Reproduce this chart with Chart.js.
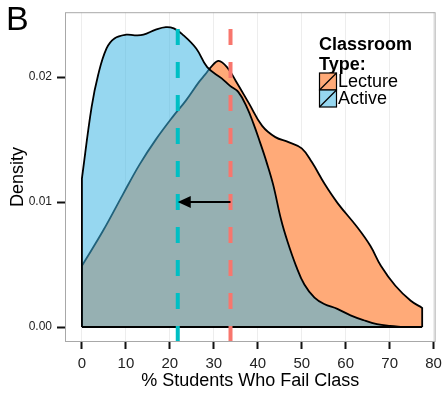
<html>
<head>
  <script src="https://cdn.jsdelivr.net/npm/chart.js@4.4.1/dist/chart.umd.min.js"></script>
  <style>
    body { margin: 0; background: #fff; }
  </style>
</head>
<body>
  <canvas id="densityChart" width="448" height="397"></canvas>
<script>
  // Values (x = % students who fail, y = density).
  const categories = ['Lecture', 'Active'];
  const lectureX = [0, 0, 0, 4.8, 9.3, 13.1, 16.8, 20.6, 23.6, 26.6, 28.0, 29.6, 31.1, 33.0, 35.0, 38.0, 41.0, 44.0, 47.0, 50.0, 52.3, 55.3, 58.2, 62.6, 65.6, 68.0, 71.3, 74.8, 77.4, 77.4, 77.4];
  const lectureY = [0, 0.0049, 0.0049, 0.0077, 0.0106, 0.0130, 0.0150, 0.0168, 0.0181, 0.0196, 0.0202, 0.0209, 0.0213, 0.0208, 0.0197, 0.0179, 0.0161, 0.0152, 0.0148, 0.0143, 0.0132, 0.0114, 0.0099, 0.0080, 0.0065, 0.0049, 0.0033, 0.0021, 0.00153, 0.00153, 0];
  const activeX = [0, 0, 0, 2.2, 3.7, 5.6, 7.4, 10.1, 12.0, 14.0, 16.8, 19.1, 20.9, 22.8, 26.0, 28.5, 31.8, 33.7, 35.6, 37.5, 39.0, 40.5, 42.0, 43.5, 45.3, 46.8, 48.7, 50.6, 52.9, 55.1, 58.1, 61.1, 64.1, 67.1, 70.1, 73.0];
  const activeY = [0, 0.0119, 0.0119, 0.0176, 0.0202, 0.0223, 0.0231, 0.0234, 0.02335, 0.0234, 0.0238, 0.0240, 0.0239, 0.02345, 0.0223, 0.0208, 0.0199, 0.0193, 0.0188, 0.0176, 0.0163, 0.0148, 0.0132, 0.0114, 0.0086, 0.0068, 0.0049, 0.0034, 0.00235, 0.00184, 0.00145, 0.00093, 0.00054, 0.00023, 0.00008, 0];
  const meanLecture = 33.8;
  const meanActive = 21.8;
  const arrowY = 0.01;
  const xTicks = [0, 10, 20, 30, 40, 50, 60, 70, 80];
  const yTicks = [0, 0.01, 0.02];

  const xMin = -3.85, xMax = 80.45;
  const yMin = -0.0012, yMax = 0.0252;
  const FONT = '"Liberation Sans", Arial, Helvetica, sans-serif';

  const lectureFill = '#FFAA78';
  const activeFill = 'rgba(61, 181, 228, 0.54)';

  const toPoints = (xs, ys) => xs.map((x, i) => ({ x, y: ys[i] }));

  // Panel border, arrow, legend and panel letter.
  const extras = {
    id: 'extras',
    afterDatasetsDraw(chart) {
      const ctx = chart.ctx;
      const xs = chart.scales.x, ys = chart.scales.y;
      const x0 = xs.getPixelForValue(meanLecture);
      const x1 = xs.getPixelForValue(meanActive);
      const y = ys.getPixelForValue(arrowY);
      ctx.save();
      ctx.strokeStyle = '#000';
      ctx.lineWidth = 2;
      ctx.beginPath();
      ctx.moveTo(x0, y);
      ctx.lineTo(x1 + 8, y);
      ctx.stroke();
      ctx.fillStyle = '#000';
      ctx.beginPath();
      ctx.moveTo(x1, y);
      ctx.lineTo(x1 + 13, y - 6);
      ctx.lineTo(x1 + 13, y + 6);
      ctx.closePath();
      ctx.fill();
      ctx.restore();
    },
    afterDraw(chart) {
      const ctx = chart.ctx;
      const a = chart.chartArea;
      ctx.save();
      ctx.strokeStyle = '#A8A8A8';
      ctx.lineWidth = 1;
      ctx.strokeRect(a.left + 0.5, a.top + 0.5, a.right - a.left - 1, a.bottom - a.top - 1);

      // panel letter
      ctx.fillStyle = '#000';
      ctx.textBaseline = 'alphabetic';
      ctx.textAlign = 'left';
      ctx.font = '34px ' + FONT;
      ctx.fillText('B', 6, 30);

      // legend
      ctx.font = 'bold 18px ' + FONT;
      ctx.fillText('Classroom', 319, 50);
      ctx.fillText('Type:', 319, 70);
      const fills = [lectureFill, activeFill];
      categories.forEach((name, i) => {
        const bx = 319.5, by = 73 + i * 17, s = 17;
        ctx.fillStyle = '#fff';
        ctx.fillRect(bx, by, s, s);
        ctx.fillStyle = fills[i];
        ctx.fillRect(bx, by, s, s);
        ctx.strokeStyle = '#000';
        ctx.lineWidth = 1.2;
        ctx.strokeRect(bx, by, s, s);
        ctx.beginPath();
        ctx.moveTo(bx, by + s);
        ctx.lineTo(bx + s, by);
        ctx.stroke();
        ctx.fillStyle = '#000';
        ctx.font = '18px ' + FONT;
        ctx.textBaseline = 'middle';
        ctx.fillText(name, 338, by + s / 2 + 1);
        ctx.textBaseline = 'alphabetic';
      });
      ctx.restore();
    }
  };

  const ctx = document.getElementById('densityChart').getContext('2d');
  const chart = new Chart(ctx, {
    type: 'line',
    data: {
      datasets: [
        {
          label: 'Lecture mean',
          data: [{ x: meanLecture, y: yMin }, { x: meanLecture, y: yMax }],
          borderColor: '#F8766D',
          borderWidth: 4,
          borderDash: [16, 17],
          pointRadius: 0,
          fill: false,
          order: 0
        },
        {
          label: 'Active mean',
          data: [{ x: meanActive, y: yMin }, { x: meanActive, y: yMax }],
          borderColor: '#00BFC4',
          borderWidth: 4,
          borderDash: [16, 17],
          pointRadius: 0,
          fill: false,
          order: 0
        },
        {
          label: 'baseline',
          data: [{ x: Math.min(lectureX[0], activeX[0]), y: 0 }, { x: Math.max(lectureX[lectureX.length - 1], activeX[activeX.length - 1]), y: 0 }],
          borderColor: '#000',
          borderWidth: 2,
          pointRadius: 0,
          fill: false,
          order: 1
        },
        {
          label: categories[1],
          data: toPoints(activeX, activeY),
          borderColor: '#000',
          borderWidth: 1.8,
          backgroundColor: activeFill,
          fill: 'origin',
          tension: 0.4,
          pointRadius: 0,
          order: 2
        },
        {
          label: categories[0],
          data: toPoints(lectureX, lectureY),
          borderColor: '#000',
          borderWidth: 1.8,
          backgroundColor: lectureFill,
          fill: 'origin',
          tension: 0.4,
          pointRadius: 0,
          order: 3
        }
      ]
    },
    options: {
      responsive: false,
      animation: false,
      devicePixelRatio: 1,
      layout: { padding: { top: 3, right: 9, left: 0, bottom: 0 } },
      plugins: {
        legend: { display: false },
        tooltip: { enabled: false }
      },
      scales: {
        x: {
          type: 'linear',
          min: xMin,
          max: xMax,
          afterBuildTicks: (s) => { s.ticks = xTicks.map((v) => ({ value: v })); },
          afterFit: (s) => { s.height = 55; },
          grid: { color: '#EDEDED', lineWidth: 1, drawTicks: true, tickLength: 7, tickColor: '#111', tickWidth: 2 },
          border: { display: false },
          ticks: {
            font: { size: 15, family: FONT },
            color: '#222',
            padding: 6,
            maxRotation: 0,
            autoSkip: false,
            callback: (v) => String(v)
          },
          title: {
            display: true,
            text: '% Students Who Fail Class',
            color: '#000',
            font: { size: 18, family: FONT },
            padding: { top: 0, bottom: 5 }
          }
        },
        y: {
          type: 'linear',
          min: yMin,
          max: yMax,
          afterBuildTicks: (s) => { s.ticks = yTicks.map((v) => ({ value: v })); },
          afterFit: (s) => { s.width = 65; },
          grid: { drawOnChartArea: false, drawTicks: true, tickLength: 8, tickColor: '#111', tickWidth: 2 },
          border: { display: false },
          ticks: {
            font: { size: 12, family: FONT },
            color: '#222',
            padding: 5,
            autoSkip: false,
            callback: (v) => v.toFixed(2)
          },
          title: {
            display: true,
            text: 'Density',
            color: '#000',
            font: { size: 18, family: FONT },
            padding: { top: 7, bottom: 0 }
          }
        }
      }
    },
    plugins: [extras]
  });
</script>
</body>
</html>
